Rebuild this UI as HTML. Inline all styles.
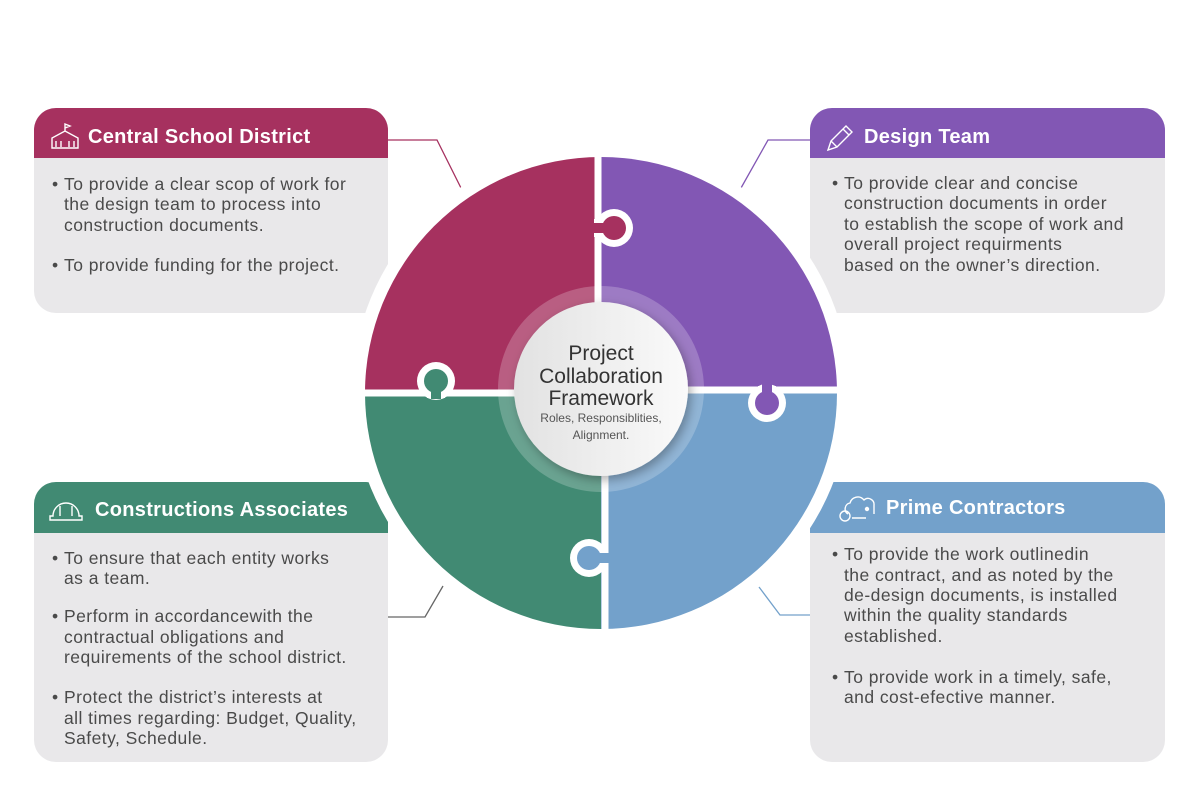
<!DOCTYPE html>
<html><head><meta charset="utf-8"><style>
html,body{margin:0;padding:0;background:#fff;width:1200px;height:800px;overflow:hidden}
svg{display:block}
.b{font-family:"Liberation Sans",sans-serif;font-size:17.5px;letter-spacing:0.45px;fill:#4a4a4a}
.h{font-family:"Liberation Sans",sans-serif;font-size:20px;letter-spacing:0.3px;font-weight:bold;fill:#fff}
</style></head><body>
<svg width="1200" height="800" viewBox="0 0 1200 800" xmlns="http://www.w3.org/2000/svg">
<defs>
<clipPath id="cc"><circle cx="601" cy="393" r="236"/></clipPath>
<linearGradient id="cg" x1="0" y1="0" x2="1" y2="0"><stop offset="0" stop-color="#e2e2e2"/><stop offset="1" stop-color="#fafafa"/></linearGradient>
<filter id="sh" x="-30%" y="-30%" width="160%" height="160%"><feDropShadow dx="3" dy="4" stdDeviation="5" flood-color="#000" flood-opacity="0.3"/></filter>
</defs>

<path d="M34,130 a22,22 0 0 1 22,-22 h310 a22,22 0 0 1 22,22 v28 h-354z" fill="#a6315f"/>
<path d="M34,158 h354 v133 a22,22 0 0 1 -22,22 h-310 a22,22 0 0 1 -22,-22z" fill="#e9e8ea"/>
<path d="M810,130 a22,22 0 0 1 22,-22 h311 a22,22 0 0 1 22,22 v28 h-355z" fill="#8257b4"/>
<path d="M810,158 h355 v133 a22,22 0 0 1 -22,22 h-311 a22,22 0 0 1 -22,-22z" fill="#e9e8ea"/>
<path d="M34,504 a22,22 0 0 1 22,-22 h310 a22,22 0 0 1 22,22 v29 h-354z" fill="#418a73"/>
<path d="M34,533 h354 v207 a22,22 0 0 1 -22,22 h-310 a22,22 0 0 1 -22,-22z" fill="#e9e8ea"/>
<path d="M810,504 a22,22 0 0 1 22,-22 h311 a22,22 0 0 1 22,22 v29 h-355z" fill="#73a1cb"/>
<path d="M810,533 h355 v207 a22,22 0 0 1 -22,22 h-311 a22,22 0 0 1 -22,-22z" fill="#e9e8ea"/>

<polyline points="388,140 437,140 462,190" fill="none" stroke="#a6315f" stroke-width="1.3"/>
<polyline points="810,140 768,140 741,188" fill="none" stroke="#8257b4" stroke-width="1.3"/>
<polyline points="388,617 425,617 443,586" fill="none" stroke="#666" stroke-width="1.3"/>
<polyline points="810,615 780,615 759,587" fill="none" stroke="#73a1cb" stroke-width="1.3"/>

<circle cx="601" cy="393" r="249" fill="#fff"/>

<g clip-path="url(#cc)">
<rect x="360" y="150" width="241" height="243" fill="#a6315f"/>
<rect x="601" y="150" width="245" height="240" fill="#8257b4"/>
<rect x="360" y="393" width="245" height="245" fill="#418a73"/>
<rect x="601" y="390" width="245" height="250" fill="#73a1cb"/>
</g>
<line x1="598" y1="150" x2="598" y2="393" stroke="#fff" stroke-width="7"/>
<line x1="605" y1="390" x2="605" y2="640" stroke="#fff" stroke-width="7"/>
<line x1="360" y1="393" x2="601" y2="393" stroke="#fff" stroke-width="7"/>
<line x1="601" y1="390" x2="846" y2="390" stroke="#fff" stroke-width="7"/>

<g>
<circle cx="614" cy="228" r="19" fill="#fff"/>
<rect x="594" y="219" width="14" height="18" fill="#fff"/>
<rect x="590" y="223" width="20" height="10" fill="#a6315f"/>
<circle cx="614" cy="228" r="12" fill="#a6315f"/>

<circle cx="436" cy="381" r="19" fill="#fff"/>
<rect x="427" y="384" width="18" height="14" fill="#fff"/>
<rect x="431" y="383" width="10" height="16" fill="#418a73"/>
<circle cx="436" cy="381" r="12" fill="#418a73"/>

<circle cx="767" cy="403" r="19" fill="#fff"/>
<rect x="758" y="386" width="18" height="14" fill="#fff"/>
<rect x="762" y="383" width="10" height="16" fill="#8257b4"/>
<circle cx="767" cy="403" r="12" fill="#8257b4"/>

<circle cx="589" cy="558" r="19" fill="#fff"/>
<rect x="594" y="549" width="14" height="18" fill="#fff"/>
<rect x="592" y="553" width="17" height="10" fill="#73a1cb"/>
<circle cx="589" cy="558" r="12" fill="#73a1cb"/>
</g>

<circle cx="601" cy="389" r="103" fill="#fff" fill-opacity="0.22"/>
<circle cx="601" cy="389" r="87" fill="url(#cg)" filter="url(#sh)"/>
<g font-family="Liberation Sans, sans-serif" fill="#333" text-anchor="middle">
<text x="601" y="360" font-size="21">Project</text>
<text x="601" y="383" font-size="21">Collaboration</text>
<text x="601" y="405" font-size="21">Framework</text>
<text x="601" y="422" font-size="12" fill="#555">Roles, Responsiblities,</text>
<text x="601" y="439" font-size="12" fill="#555">Alignment.</text>
</g>

<text class="h" x="88" y="143">Central School District</text>
<text class="h" x="864" y="143">Design Team</text>
<text class="h" x="95" y="516">Constructions Associates</text>
<text class="h" x="886" y="514">Prime Contractors</text>

<g stroke="#fff" stroke-width="1.4" fill="none">
<path d="M52,148 v-10 l13,-7 l13,7 v10 z M56,141 v6 M61,141 v6 M69,141 v6 M74,141 v6 M65,131 v-7 l5,2 l-5,2"/>
<path d="M828,150 l3,-9 l15,-15 l6,6 l-15,15 z M831,141 l6,6 M843,129 l6,6"/>
<path d="M50,520 h32 v-4 h-3 a13,13 0 0 0 -26,0 h-3 z M60,516 v-10 M72,516 v-10"/>
<path d="M848,514 a6,6 0 0 1 2,-11 a8,8 0 0 1 14,-3 a6,6 0 0 1 10,5 v9 M852,518 h14"/>
<circle cx="845" cy="516" r="5"/>
<circle cx="867" cy="509" r="1.5" fill="#fff"/>
</g>

<g class="b">
<text x="52" y="190">•</text>
<text x="64" y="190">To provide a clear scop of work for</text>
<text x="64" y="210">the design team to process into</text>
<text x="64" y="231">construction documents.</text>
<text x="52" y="271">•</text>
<text x="64" y="271">To provide funding for the project.</text>

<text x="832" y="189">•</text>
<text x="844" y="189">To provide clear and concise</text>
<text x="844" y="209">construction documents in order</text>
<text x="844" y="230">to establish the scope of work and</text>
<text x="844" y="250">overall project requirments</text>
<text x="844" y="271">based on the owner’s direction.</text>

<text x="52" y="564">•</text>
<text x="64" y="564">To ensure that each entity works</text>
<text x="64" y="584">as a team.</text>
<text x="52" y="622">•</text>
<text x="64" y="622">Perform in accordancewith the</text>
<text x="64" y="643">contractual obligations and</text>
<text x="64" y="663">requirements of the school district.</text>
<text x="52" y="703">•</text>
<text x="64" y="703">Protect the district’s interests at</text>
<text x="64" y="724">all times regarding: Budget, Quality,</text>
<text x="64" y="744">Safety, Schedule.</text>

<text x="832" y="560">•</text>
<text x="844" y="560">To provide the work outlinedin</text>
<text x="844" y="581">the contract, and as noted by the</text>
<text x="844" y="601">de-design documents, is installed</text>
<text x="844" y="621">within the quality standards</text>
<text x="844" y="642">established.</text>
<text x="832" y="683">•</text>
<text x="844" y="683">To provide work in a timely, safe,</text>
<text x="844" y="703">and cost-efective manner.</text>
</g>
</svg>
</body></html>
